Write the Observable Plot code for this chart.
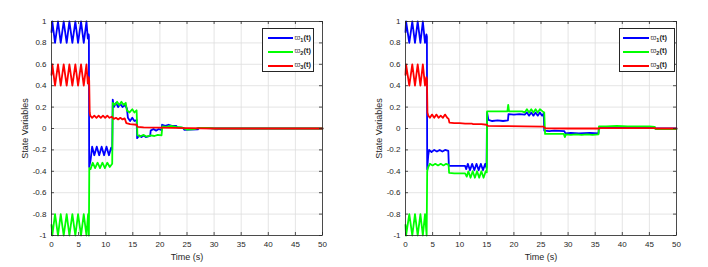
<!DOCTYPE html>
<html>
<head>
<meta charset="utf-8">
<script src="https://cdn.jsdelivr.net/npm/d3@7"></script>
<script src="https://cdn.jsdelivr.net/npm/@observablehq/plot@0.6"></script>
<style>
  body { margin: 0; background: #fff; }
  #wrap { position: relative; width: 708px; height: 267px; display: flex; font-family: "Liberation Sans", Arial, sans-serif; }
  .legend { position: absolute; top: 28px; height: 44px; background: #fff; border: 0.8px solid #262626; box-sizing: border-box; }
  .swatch { position: absolute; height: 2px; }
  .lab { position: absolute; font-size: 7.5px; color: #262626; line-height: 10px; white-space: nowrap; font-weight: bold; }
  .lab .sym { font-weight: normal; color: #555; }
  .lab sub { font-size: 5.5px; vertical-align: -1.5px; }
</style>
</head>
<body>
<div id="wrap"></div>
<script>
// ---- Data ----
const seriesNames = ["w1", "w2", "w3"];
const seriesColors = ["#0000ff", "#00ff00", "#ff0000"];
const xTicks = [0, 5, 10, 15, 20, 25, 30, 35, 40, 45, 50];
const yTicks = [-1, -0.8, -0.6, -0.4, -0.2, 0, 0.2, 0.4, 0.6, 0.8, 1];

// Left panel
const left_w1 = [[0,0.9],[0.15,1],[0.65,0.8],[1.2,1],[1.7,0.8],[2.25,1],[2.8,0.8],[3.3,1],[3.85,0.8],[4.4,1],[4.9,0.8],[5.45,1],[5.95,0.8],[6.45,1],[6.7,0.84],[6.85,0.88],[6.9,0.86],[6.95,-0.36],[7.2,-0.3],[7.5,-0.17],[7.9,-0.25],[8.35,-0.17],[8.8,-0.25],[9.25,-0.17],[9.7,-0.25],[10.15,-0.17],[10.6,-0.25],[11.0,-0.18],[11.2,-0.2],[11.3,0.27],[11.5,0.2],[11.9,0.24],[12.3,0.2],[12.7,0.23],[13.1,0.2],[13.5,0.22],[13.9,0.19],[14.1,0.1],[14.5,0.07],[14.9,0.1],[15.3,0.07],[15.7,0.08],[15.8,-0.09],[16.2,-0.065],[16.6,-0.08],[17.0,-0.065],[17.4,-0.08],[18.2,-0.07],[18.3,-0.02],[18.8,-0.005],[19.3,-0.02],[19.8,-0.005],[20.3,-0.015],[20.4,0.035],[21,0.025],[21.6,0.035],[22.2,0.025],[23,0.025],[23.2,0.01],[24.3,0.005],[24.5,-0.012],[25.5,-0.01],[27,-0.008],[27.2,0.005],[30,0.002],[30.2,0],[50,0]];
const left_w2 = [[0,-0.9],[0.15,-1],[0.65,-0.8],[1.2,-1],[1.7,-0.8],[2.25,-1],[2.8,-0.8],[3.3,-1],[3.85,-0.8],[4.4,-1],[4.9,-0.8],[5.45,-1],[5.95,-0.8],[6.45,-1],[6.75,-0.8],[6.9,-1],[6.97,-0.37],[7.2,-0.38],[7.6,-0.32],[8.05,-0.37],[8.5,-0.32],[8.95,-0.37],[9.4,-0.32],[9.85,-0.37],[10.3,-0.32],[10.75,-0.36],[11.2,-0.33],[11.3,0.24],[11.7,0.22],[12.1,0.25],[12.5,0.22],[12.9,0.25],[13.3,0.22],[13.7,0.24],[13.9,0.17],[14.4,0.15],[14.9,0.18],[15.3,0.15],[15.7,0.17],[15.85,-0.06],[16.3,-0.075],[17,-0.06],[17.5,-0.075],[18.3,-0.065],[19,-0.07],[19.6,-0.06],[20.3,-0.065],[20.45,0.02],[21.2,0.015],[22,0.025],[23,0.015],[24,0.01],[25,-0.01],[26.5,-0.005],[27,0.005],[29,0.005],[30,0],[50,0]];
const left_w3 = [[0,0.5],[0.15,0.6],[0.65,0.4],[1.2,0.6],[1.7,0.4],[2.25,0.6],[2.8,0.4],[3.3,0.6],[3.85,0.4],[4.4,0.6],[4.9,0.4],[5.45,0.6],[5.95,0.4],[6.45,0.6],[6.7,0.42],[6.85,0.48],[6.95,0.45],[7.05,0.15],[7.15,0.12],[7.5,0.1],[7.9,0.12],[8.3,0.1],[8.7,0.12],[9.1,0.1],[9.5,0.12],[9.9,0.1],[10.3,0.12],[10.7,0.1],[11.1,0.11],[11.5,0.09],[11.9,0.1],[12.3,0.085],[12.7,0.1],[13.1,0.085],[13.5,0.095],[13.8,0.05],[14.5,0.04],[15.7,0.035],[15.9,0.015],[17,0.01],[20,0.008],[25,0.003],[30,0],[50,0]];

// Right panel
const right_w1 = [[0,0.9],[0.1,1],[0.7,0.8],[1.25,1],[1.75,0.8],[2.25,1],[2.75,0.8],[3.2,1],[3.6,0.8],[3.85,0.88],[3.95,0.86],[4.0,-0.38],[4.2,-0.25],[4.35,-0.2],[4.8,-0.22],[5.3,-0.2],[5.8,-0.215],[6.3,-0.2],[6.8,-0.215],[7.3,-0.2],[7.9,-0.21],[8.0,-0.35],[9,-0.35],[10,-0.35],[11,-0.35],[11.2,-0.38],[11.5,-0.33],[11.9,-0.39],[12.3,-0.33],[12.7,-0.39],[13.1,-0.33],[13.5,-0.39],[13.9,-0.33],[14.3,-0.39],[14.7,-0.33],[14.95,-0.37],[15.05,0.15],[15.3,0.08],[16,0.07],[17,0.075],[18,0.07],[18.9,0.075],[19.0,0.135],[20,0.13],[21,0.135],[22,0.13],[22.4,0.15],[22.8,0.12],[23.2,0.15],[23.6,0.12],[24,0.15],[24.4,0.12],[24.8,0.15],[25.2,0.12],[25.5,0.14],[25.6,-0.02],[26.5,-0.025],[27.5,-0.02],[29.3,-0.025],[29.5,-0.045],[30.5,-0.04],[32,-0.045],[34,-0.04],[35.6,-0.045],[35.7,0.01],[38,0.01],[40,0.015],[43,0.01],[46,0.01],[46.1,0],[50,0]];
const right_w2 = [[0,-0.9],[0.1,-1],[0.7,-0.8],[1.25,-1],[1.75,-0.8],[2.25,-1],[2.75,-0.8],[3.2,-1],[3.6,-0.8],[3.9,-1],[4.0,-0.4],[4.2,-0.36],[4.5,-0.33],[5,-0.345],[5.5,-0.33],[6,-0.345],[6.5,-0.33],[7,-0.345],[7.5,-0.33],[7.95,-0.34],[8.05,-0.415],[9,-0.42],[10,-0.42],[11,-0.42],[11.3,-0.45],[11.6,-0.4],[12,-0.46],[12.4,-0.4],[12.8,-0.46],[13.2,-0.4],[13.6,-0.46],[14,-0.4],[14.4,-0.46],[14.8,-0.4],[15.0,-0.41],[15.05,0.16],[16,0.16],[17,0.16],[18.8,0.16],[18.95,0.22],[19.1,0.16],[20,0.16],[21.5,0.16],[22,0.15],[22.4,0.18],[22.8,0.15],[23.2,0.18],[23.6,0.15],[24,0.18],[24.4,0.15],[24.8,0.18],[25.3,0.16],[25.6,0.15],[25.75,-0.05],[27,-0.05],[29.2,-0.05],[29.4,-0.08],[29.6,-0.055],[30.5,-0.06],[31.5,-0.055],[32.5,-0.06],[33.5,-0.055],[34.5,-0.06],[35.6,-0.055],[35.7,0.02],[37,0.02],[39,0.025],[41,0.02],[43,0.02],[45,0.02],[46,0.015],[46.1,-0.005],[50,-0.005]];
const right_w3 = [[0,0.5],[0.1,0.6],[0.7,0.4],[1.25,0.6],[1.75,0.4],[2.25,0.6],[2.75,0.4],[3.2,0.6],[3.6,0.4],[3.85,0.48],[3.95,0.46],[4.05,0.15],[4.2,0.12],[4.5,0.1],[4.9,0.13],[5.3,0.1],[5.7,0.13],[6.1,0.1],[6.5,0.12],[6.9,0.1],[7.3,0.13],[7.7,0.1],[7.95,0.09],[8.1,0.055],[9,0.05],[10,0.05],[11,0.045],[12.3,0.045],[12.5,0.04],[14,0.04],[15,0.035],[15.2,0.025],[18,0.022],[22,0.02],[25.5,0.018],[25.8,0.002],[30,0],[35.6,0],[36,0.004],[46,0.004],[46.2,0],[50,0]];

const xLabel = "Time (s)";
const yLabel = "State Variables";
const legendSymbols = ["ϖ", "ϖ", "ϖ"];
const legendSubs = ["1", "2", "3"];

// ---- Drawing ----
const W = 354, H = 267, ML = 51, MR = 32, MT = 21, MB = 32;
const IW = W - ML - MR, IH = H - MT - MB;
const axisColor = "#262626";

function panel(series) {
  const data = series.flatMap((pts, i) => pts.map(([t, v]) => ({t, v, s: seriesNames[i]})));
  return Plot.plot({
    width: W, height: H,
    marginLeft: ML, marginRight: MR, marginTop: MT, marginBottom: MB,
    x: {domain: [0, 50]},
    y: {domain: [-1, 1]},
    color: {domain: seriesNames, range: seriesColors},
    style: {fontFamily: "'Liberation Sans', Arial, sans-serif", fontSize: "8px", color: axisColor, background: "#fff", overflow: "visible"},
    marks: [
      Plot.gridX({ticks: xTicks, stroke: "#dedede", strokeOpacity: 1, strokeWidth: 0.8}),
      Plot.gridY({ticks: yTicks, stroke: "#dedede", strokeOpacity: 1, strokeWidth: 0.8}),
      Plot.line(data, {x: "t", y: "v", z: "s", stroke: "s", strokeWidth: 1.8, strokeLinejoin: "round"}),
      Plot.frame({stroke: axisColor, strokeWidth: 0.8}),
      Plot.tickX(xTicks, {x: d => d, insetTop: IH - 3, stroke: axisColor, strokeWidth: 0.8}),
      Plot.tickX(xTicks, {x: d => d, insetBottom: IH - 3, stroke: axisColor, strokeWidth: 0.8}),
      Plot.tickY(yTicks, {y: d => d, insetRight: IW - 3, stroke: axisColor, strokeWidth: 0.8}),
      Plot.tickY(yTicks, {y: d => d, insetLeft: IW - 3, stroke: axisColor, strokeWidth: 0.8}),
      Plot.axisX({ticks: xTicks, tickSize: 0, tickPadding: 6, label: null, tickFormat: d => String(d)}),
      Plot.axisY({ticks: yTicks, tickSize: 0, tickPadding: 5, label: null, tickFormat: d => String(d)}),
      Plot.text([xLabel], {text: d => d, frameAnchor: "bottom", dy: 22, lineAnchor: "middle", fontSize: 9, fill: axisColor}),
      Plot.text([yLabel], {text: d => d, frameAnchor: "left", dx: -26, rotate: -90, lineAnchor: "middle", textAnchor: "middle", fontSize: 9, fill: axisColor})
    ]
  });
}

function legend(left, width, lineX0, lineX1) {
  const box = document.createElement("div");
  box.className = "legend";
  box.style.left = left + "px";
  box.style.width = width + "px";
  const rowsY = [9.3, 22.7, 36.5];
  seriesNames.forEach((n, i) => {
    const sw = document.createElement("div");
    sw.className = "swatch";
    sw.style.left = lineX0 + "px";
    sw.style.width = (lineX1 - lineX0) + "px";
    sw.style.top = (rowsY[i] - 1) + "px";
    sw.style.background = seriesColors[i];
    box.appendChild(sw);
    const lab = document.createElement("div");
    lab.className = "lab";
    lab.style.left = (lineX1 + 2) + "px";
    lab.style.top = (rowsY[i] - 5.5) + "px";
    lab.innerHTML = '<span class="sym">' + legendSymbols[i] + "</span><sub>" + legendSubs[i] + "</sub>(t)";
    box.appendChild(lab);
  });
  return box;
}

const wrap = document.getElementById("wrap");
wrap.appendChild(panel([left_w1, left_w2, left_w3]));
wrap.appendChild(panel([right_w1, right_w2, right_w3]));
wrap.appendChild(legend(262, 52, 4.5, 29.5));
wrap.appendChild(legend(619, 56, 3, 28.5));
</script>
</body>
</html>
